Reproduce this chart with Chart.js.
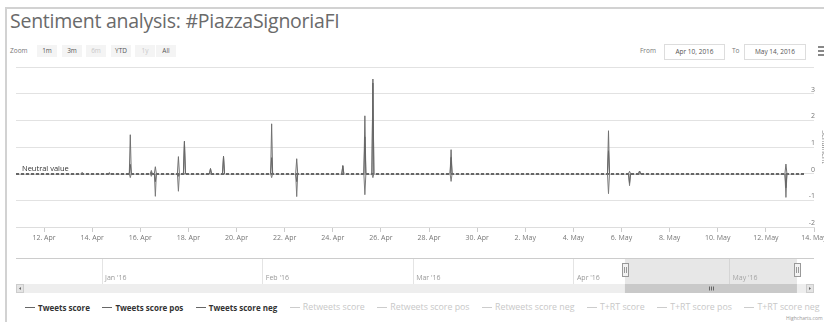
<!DOCTYPE html>
<html>
<head>
<meta charset="utf-8">
<script src="https://cdn.jsdelivr.net/npm/chart.js@4.4.0/dist/chart.umd.min.js"></script>
<style>
  body { margin: 0; width: 824px; height: 322px; overflow: hidden; background: #fff; position: relative; font-family: "Open Sans", sans-serif; }
  .frame { position: absolute; left: 5px; top: 7px; width: 840px; height: 330px; border-top: 2px solid #d2d2d2; border-left: 2px solid #d2d2d2; }
  h1 { position: absolute; left: 10px; top: 7px; margin: 0; font-weight: normal; font-size: 19.5px; color: #6a6a6a; white-space: nowrap; letter-spacing: -0.25px; }
  .tb { position: absolute; font-size: 6.5px; color: #777; line-height: 12px; white-space: nowrap; }
  .btn { position: absolute; top: 45px; width: 20px; height: 12px; line-height: 12px; text-align: center; background: #f4f4f4; font-size: 6.5px; color: #555; }
  .btn.off { color: #c8c8c8; }
  .box { position: absolute; top: 44px; height: 14px; line-height: 14px; border: 1px solid #ddd; text-align: center; font-size: 6.5px; color: #555; }
  .menu { position: absolute; left: 818px; top: 46px; width: 7px; height: 11px; background: repeating-linear-gradient(#888 0 2px, #fff 2px 4px); }
  canvas { position: absolute; left: 0; }
  #legend { position: absolute; left: 25px; top: 301px; display: flex; gap: 12.5px; font-size: 8px; white-space: nowrap; }
  #legend .it { display: flex; align-items: center; color: #333; font-weight: bold; }
  #legend .it i { display: inline-block; width: 10px; height: 1px; background: #666; margin-right: 3px; }
  #legend .it.off { color: #c8c8c8; font-weight: normal; font-size: 8.8px; }
  #legend .it.off i { background: #ccc; }
  .credit { position: absolute; left: 786px; top: 315px; font-size: 5px; color: #999; }
</style>
</head>
<body>
<div class="frame"></div>
<h1>Sentiment analysis: #PiazzaSignoriaFI</h1>
<div class="tb" style="left:10px; top:45px;">Zoom</div>
<div class="btn" style="left:37px;">1m</div>
<div class="btn" style="left:62px;">3m</div>
<div class="btn off" style="left:86px;">6m</div>
<div class="btn" style="left:111px;">YTD</div>
<div class="btn off" style="left:135px;">1y</div>
<div class="btn" style="left:156px;">All</div>
<div class="tb" style="left:640px; top:45px;">From</div>
<div class="box" style="left:664px; width:59px;">Apr 10, 2016</div>
<div class="tb" style="left:732px; top:45px;">To</div>
<div class="box" style="left:744px; width:60px;">May 14, 2016</div>
<div class="menu"></div>
<canvas id="main" width="840" height="250" style="top:0;"></canvas>
<canvas id="nav" width="824" height="46" style="top:250px;"></canvas>
<div id="legend"></div>
<div class="credit">Highcharts.com</div>
<script>
const DAY0 = Date.UTC(2016, 0, 1);
const HOUR = 1 / 24;
const toDay = s => (Date.parse(s + 'Z') - DAY0) / 864e5;
const MONTHS = ['Jan', 'Feb', 'Mar', 'Apr', 'May', 'Jun', 'Jul', 'Aug', 'Sep', 'Oct', 'Nov', 'Dec'];

// visible range of the main plot
const rangeStart = '2016-04-10T20:00';
const rangeEnd = '2016-05-14T00:00';

// hours with tweets, and their scores
const spikeTimes = [
  '2016-04-13T14:00', '2016-04-14T17:00', '2016-04-15T14:00', '2016-04-16T11:00', '2016-04-16T15:00',
  '2016-04-17T14:00', '2016-04-17T20:00', '2016-04-18T22:00', '2016-04-19T11:00', '2016-04-21T11:00',
  '2016-04-22T12:00', '2016-04-24T10:00', '2016-04-25T08:00', '2016-04-25T16:00', '2016-04-28T22:00',
  '2016-05-05T11:00', '2016-05-06T08:00', '2016-05-06T18:00', '2016-05-12T20:00'
];
const tweetScores = [0.04, 0.03, 0.35, 0.05, -0.3, -0.1, 1.21, 0.19, 0.65, 0.6, -0.3, 0.3, 1.38, 3.4, 0.61, 0.86, -0.36, 0.1, -0.53];
const posScores   = [0.04, 0.03, 1.46, 0.12, 0.26, 0.64, 1.21, 0.19, 0.65, 1.87, 0.56, 0.3, 2.17, 3.55, 0.9, 1.61, 0.09, 0.1, 0.36];
const negScores   = [0, 0, -0.15, -0.1, -0.85, -0.66, 0, 0, 0, -0.15, -0.86, 0, -0.79, -0.15, -0.29, -0.75, -0.45, 0, -0.89];

const seriesNames = ['Tweets score', 'Tweets score pos', 'Tweets score neg',
  'Retweets score', 'Retweets score pos', 'Retweets score neg',
  'T+RT score', 'T+RT score pos', 'T+RT score neg'];

// axes
const xTickDates = ['2016-04-12', '2016-04-14', '2016-04-16', '2016-04-18', '2016-04-20', '2016-04-22', '2016-04-24',
  '2016-04-26', '2016-04-28', '2016-04-30', '2016-05-02', '2016-05-04', '2016-05-06', '2016-05-08', '2016-05-10',
  '2016-05-12', '2016-05-14'];
const yTickValues = [-2, -1, 0, 1, 2, 3, 4];
const yTickLabels = ['-2', '-1', '0', '1', '2', '3', ''];
const yTitle = 'Sentiment';
const neutralValue = 0;

// navigator
const navStart = '2015-12-15T10:00';
const navEnd = '2016-05-17T07:00';
const navMonths = ['2016-01-01', '2016-02-01', '2016-03-01', '2016-04-01', '2016-05-01'];

const fmtDay = d => { const t = new Date(DAY0 + d * 864e5); return t.getUTCDate() + '. ' + MONTHS[t.getUTCMonth()]; };
const fmtMonth = s => { const t = new Date(s + 'T00:00Z'); return MONTHS[t.getUTCMonth()] + " '" + String(t.getUTCFullYear()).slice(2); };

// each hour with tweets is drawn as a spike from the zero level; no line between hours
function spikeSeries(values) {
  const pts = [];
  spikeTimes.forEach((t, i) => {
    const d = toDay(t);
    pts.push({ x: d - HOUR, y: 0 }, { x: d, y: values[i] }, { x: d + HOUR, y: 0 }, { x: d + 2 * HOUR, y: null });
  });
  return pts;
}

const visibleData = [tweetScores, posScores, negScores];
const lineColors = ['#666666', '#707070', '#7a7a7a'];

const datasets = seriesNames.map((name, i) => ({
  label: name,
  data: i < 3 ? spikeSeries(visibleData[i]) : [],
  hidden: i >= 3,
  borderColor: lineColors[i] || '#ccc',
  borderWidth: 1,
  pointRadius: 0,
  spanGaps: false,
  tension: 0
}));

const neutralLine = {
  id: 'neutralLine',
  beforeDatasetsDraw(chart) {
    const { ctx, chartArea: a, scales: { y } } = chart;
    const py = Math.round(y.getPixelForValue(neutralValue));
    ctx.save();
    ctx.strokeStyle = '#bbb';
    ctx.lineWidth = 1;
    ctx.beginPath();
    ctx.moveTo(a.left, py + 0.5);
    ctx.lineTo(a.right - 10, py + 0.5);
    ctx.stroke();
    ctx.strokeStyle = '#666';
    ctx.lineWidth = 2;
    ctx.setLineDash([3, 2]);
    ctx.beginPath();
    ctx.moveTo(a.left, py);
    ctx.lineTo(a.right - 10, py);
    ctx.stroke();
    ctx.setLineDash([]);
    ctx.fillStyle = '#333';
    ctx.font = '7.5px "Open Sans"';
    ctx.fillText('Neutral value', a.left + 6, py - 3);
    // rotated axis title, just outside the plot on the right
    ctx.translate(a.right + 8, (a.top + a.bottom) / 2);
    ctx.rotate(Math.PI / 2);
    ctx.textAlign = 'center';
    ctx.fillStyle = '#888';
    ctx.font = '7px "Open Sans"';
    ctx.fillText(yTitle, 0, 0);
    ctx.restore();
  }
};

const mainChart = new Chart(document.getElementById('main'), {
  type: 'line',
  data: { datasets },
  options: {
    responsive: false,
    animation: false,
    layout: { autoPadding: false, padding: { left: 16, top: 67, bottom: 5.6, right: 24 } },
    plugins: { legend: { display: false }, tooltip: { enabled: false } },
    scales: {
      x: {
        type: 'linear',
        min: toDay(rangeStart),
        max: toDay(rangeEnd),
        afterBuildTicks: s => { s.ticks = xTickDates.map(d => ({ value: toDay(d + 'T00:00') })); },
        ticks: { callback: v => fmtDay(v), font: { family: 'Open Sans', size: 7 }, color: '#777', padding: 2, maxRotation: 0, autoSkip: false },
        grid: { drawOnChartArea: false, tickLength: 5, color: '#ccc' },
        border: { color: '#ddd' }
      },
      y: {
        position: 'right',
        min: yTickValues[0],
        max: yTickValues[yTickValues.length - 1],
        afterBuildTicks: s => { s.ticks = yTickValues.map(v => ({ value: v })); },
        ticks: {
          mirror: true, padding: 1, labelOffset: -4,
          callback: v => yTickLabels[yTickValues.indexOf(v)],
          font: { family: 'Open Sans', size: 7 }, color: '#777'
        },
        grid: { color: '#e2e2e2', drawTicks: false },
        border: { display: false }
      }
    }
  },
  plugins: [neutralLine]
});

const navOverlay = {
  id: 'navOverlay',
  afterDraw(chart) {
    const { ctx, chartArea: a, scales: { x } } = chart;
    const s = x.getPixelForValue(toDay(rangeStart));
    const e = x.getPixelForValue(toDay(rangeEnd));
    ctx.save();
    ctx.fillStyle = '#999';
    ctx.font = '7px "Open Sans"';
    ctx.textBaseline = 'middle';
    navMonths.forEach(m => ctx.fillText(fmtMonth(m), x.getPixelForValue(toDay(m + 'T00:00')) + 3, a.bottom - 6));
    ctx.fillStyle = 'rgba(185,185,185,0.35)';
    ctx.fillRect(s, a.top, e - s, a.bottom - a.top);
    ctx.strokeStyle = '#ccc';
    ctx.lineWidth = 1;
    ctx.beginPath();
    ctx.moveTo(a.left, a.top + 0.5);
    ctx.lineTo(a.right, a.top + 0.5);
    ctx.stroke();
    // scrollbar
    const sy = a.bottom, sh = 9;
    ctx.fillStyle = '#eeeeee';
    ctx.fillRect(a.left, sy, a.right - a.left, sh);
    ctx.fillStyle = '#c9c9c9';
    ctx.fillRect(s, sy, e - s, sh);
    ctx.strokeStyle = '#666';
    const mx = Math.round((s + e) / 2);
    [-2, 0, 2].forEach(o => { ctx.beginPath(); ctx.moveTo(mx + o + 0.5, sy + 2.5); ctx.lineTo(mx + o + 0.5, sy + 6.5); ctx.stroke(); });
    ctx.fillStyle = '#e4e4e4';
    ctx.strokeStyle = '#ccc';
    [a.left, a.right - 8].forEach(bx => { ctx.fillRect(bx, sy, 8, sh); ctx.strokeRect(bx + 0.5, sy + 0.5, 7, sh - 1); });
    ctx.fillStyle = '#666';
    ctx.beginPath(); ctx.moveTo(a.left + 5, sy + 3); ctx.lineTo(a.left + 3, sy + 4.5); ctx.lineTo(a.left + 5, sy + 6); ctx.fill();
    ctx.beginPath(); ctx.moveTo(a.right - 5, sy + 3); ctx.lineTo(a.right - 3, sy + 4.5); ctx.lineTo(a.right - 5, sy + 6); ctx.fill();
    // handles
    [s, e].forEach(hx => {
      const h = Math.round(hx);
      ctx.fillStyle = '#f2f2f2';
      ctx.strokeStyle = '#999';
      ctx.fillRect(h - 3, a.top + 5, 7, 14);
      ctx.strokeRect(h - 2.5, a.top + 5.5, 6, 13);
      ctx.beginPath();
      ctx.moveTo(h - 0.5, a.top + 9); ctx.lineTo(h - 0.5, a.top + 15);
      ctx.moveTo(h + 1.5, a.top + 9); ctx.lineTo(h + 1.5, a.top + 15);
      ctx.stroke();
    });
    ctx.restore();
  }
};

new Chart(document.getElementById('nav'), {
  type: 'line',
  data: { datasets: [] },
  options: {
    responsive: false,
    animation: false,
    layout: { autoPadding: false, padding: { left: 16, top: 8, bottom: 12, right: 10 } },
    plugins: { legend: { display: false }, tooltip: { enabled: false } },
    scales: {
      x: {
        type: 'linear',
        min: toDay(navStart),
        max: toDay(navEnd),
        afterBuildTicks: s => { s.ticks = navMonths.map(m => ({ value: toDay(m + 'T00:00') })); },
        ticks: { display: false },
        grid: { color: '#e4e4e4', drawTicks: false },
        border: { display: false }
      },
      y: { display: false, min: -2, max: 4 }
    }
  },
  plugins: [navOverlay]
});

// legend from the chart's own datasets
const legend = document.getElementById('legend');
mainChart.data.datasets.forEach(ds => {
  const it = document.createElement('div');
  it.className = 'it' + (ds.hidden ? ' off' : '');
  it.innerHTML = '<i></i>';
  it.appendChild(document.createTextNode(ds.label));
  legend.appendChild(it);
});
</script>
</body>
</html>
